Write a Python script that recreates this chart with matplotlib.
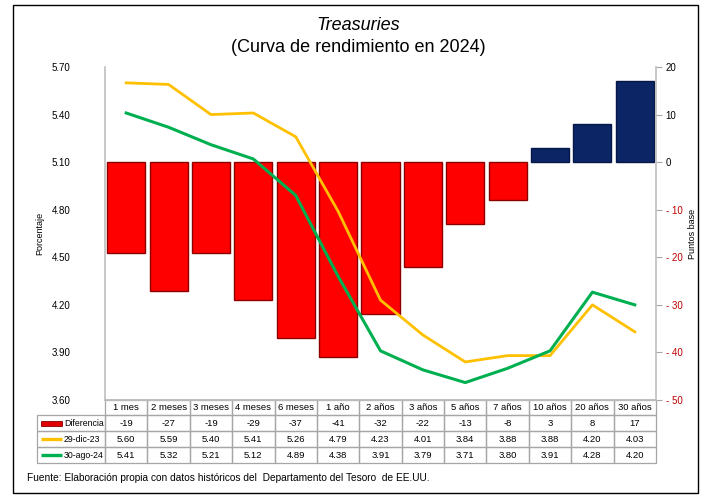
import numpy as np
import matplotlib.pyplot as plt
from matplotlib.patches import Rectangle

plt.rcParams['font.family'] = ['Liberation Sans', 'DejaVu Sans']

# plazos de la curva
plazos = ["1 mes", "2 meses", "3 meses", "4 meses", "6 meses", "1 año", "2 años",
          "3 años", "5 años", "7 años", "10 años", "20 años", "30 años"]
# rendimientos (%)
dic23 = [5.60, 5.59, 5.40, 5.41, 5.26, 4.79, 4.23, 4.01, 3.84, 3.88, 3.88, 4.20, 4.03]
ago24 = [5.41, 5.32, 5.21, 5.12, 4.89, 4.38, 3.91, 3.79, 3.71, 3.80, 3.91, 4.28, 4.20]
# diferencia en puntos base
diferencia = [-19, -27, -19, -29, -37, -41, -32, -22, -13, -8, 3, 8, 17]

serie_nombres = ["Diferencia", "29-dic-23", "30-ago-24"]
izq_ticks = np.arange(3.60, 5.71, 0.30)
der_ticks = np.arange(-50, 21, 10)

W, H = 707, 499
fig = plt.figure(figsize=(W / 100, H / 100), dpi=100)

# marco exterior
fig.patches.append(Rectangle((13 / W, 1 - 493 / H), 685 / W, 488 / H,
                             transform=fig.transFigure, fill=False,
                             edgecolor='black', linewidth=1.0))

ax_l, ax_r, ax_b, ax_t = 105, 656, 400, 67
ax_w = ax_r - ax_l
ax_h = ax_b - ax_t
ax = fig.add_axes([ax_l / W, 1 - ax_b / H, ax_w / W, ax_h / H])
ax2 = ax.twinx()
# lineas por encima de las barras
ax.set_zorder(ax2.get_zorder() + 1)
ax.patch.set_visible(False)

x = np.arange(len(plazos))
colores = ['#ff0000' if d < 0 else '#0c2565' for d in diferencia]
bordes = ['#8c0000' if d < 0 else '#061847' for d in diferencia]
ax2.bar(x, diferencia, width=0.9, color=colores, edgecolor=bordes, linewidth=1.0)
ax2.set_ylim(-50, 20)
ax2.set_yticks(der_ticks)
ax2.set_yticklabels([f"{v:d}" if v >= 0 else f"- {abs(v)}" for v in der_ticks], fontsize=7)
for lbl, v in zip(ax2.get_yticklabels(), der_ticks):
    lbl.set_color('#c00000' if v < 0 else 'black')
ax2.tick_params(axis='y', length=4, width=0.8, color='#a6a6a6', pad=3)
ax2.set_ylabel("Puntos base", fontsize=6.5, labelpad=4)

ax.plot(x, dic23, color='#ffc000', linewidth=2.0)
ax.plot(x, ago24, color='#00b050', linewidth=2.2)
ax.set_ylim(3.60, 5.70)
ax.set_xlim(-0.5, len(plazos) - 0.5)
ax.set_yticks(izq_ticks)
ax.set_yticklabels([f"{v:.2f}" for v in izq_ticks], fontsize=7)
ax.tick_params(axis='y', length=0, pad=25)
ax.set_xticks([])
ax.set_ylabel("Porcentaje", fontsize=6.5, labelpad=5)

for a in (ax, ax2):
    a.spines['top'].set_visible(False)
    for s in ('left', 'right', 'bottom'):
        a.spines[s].set_color('#bfbfbf')
        a.spines[s].set_linewidth(1.2)
ax.spines['right'].set_visible(False)
ax2.spines['left'].set_visible(False)


# tabla de datos bajo el eje (coordenadas en pixeles -> ejes)
def ax_x(px):
    return (px - ax_l) / ax_w


def ax_y(py):
    return (ax_b - py) / ax_h


edge = '#a6a6a6'
lab_l = 37
row_h = [15, 16, 16, 16]
col_w = ax_w / len(plazos)


def celda(x0, y0, w, h, texto):
    ax.add_patch(Rectangle((ax_x(x0), ax_y(y0 + h)), w / ax_w, h / ax_h,
                           transform=ax.transAxes, clip_on=False, fill=False,
                           edgecolor=edge, linewidth=0.9))
    if texto:
        ax.text(ax_x(x0 + w / 2), ax_y(y0 + h / 2), texto, transform=ax.transAxes,
                ha='center', va='center', fontsize=6.8)


filas = [[f"{d:d}" for d in diferencia],
         [f"{v:.2f}" for v in dic23],
         [f"{v:.2f}" for v in ago24]]

y0 = ax_b
for j, p in enumerate(plazos):
    celda(ax_l + j * col_w, y0, col_w, row_h[0], p)
y0 += row_h[0]
for i, fila in enumerate(filas, start=1):
    h = row_h[i]
    celda(lab_l, y0, ax_l - lab_l, h, '')
    for j, val in enumerate(fila):
        celda(ax_l + j * col_w, y0, col_w, h, val)
    # leyenda de la serie
    yc = y0 + h / 2
    if i == 1:
        ax.add_patch(Rectangle((ax_x(41), ax_y(yc + 2.5)), 21 / ax_w, 5 / ax_h,
                               transform=ax.transAxes, clip_on=False,
                               facecolor='#e00000', edgecolor='#8c0000', linewidth=0.6))
    else:
        col = '#ffc000' if i == 2 else '#00b050'
        ax.plot([ax_x(41), ax_x(62)], [ax_y(yc), ax_y(yc)], transform=ax.transAxes,
                clip_on=False, color=col, linewidth=2.4, solid_capstyle='butt')
    ax.text(ax_x(64), ax_y(yc), serie_nombres[i - 1], transform=ax.transAxes,
            fontsize=6.3, ha='left', va='center')
    y0 += h

fig.text(358 / W, 1 - 25 / H, "Treasuries", ha='center', va='center',
         fontsize=13, style='italic')
fig.text(358 / W, 1 - 47 / H, "(Curva de rendimiento en 2024)", ha='center',
         va='center', fontsize=13)
fig.text(27 / W, 1 - 478 / H,
         "Fuente: Elaboración propia con datos históricos del  Departamento del Tesoro  de EE.UU.",
         ha='left', va='center', fontsize=7.3)

fig.savefig("out.png", dpi=100)
